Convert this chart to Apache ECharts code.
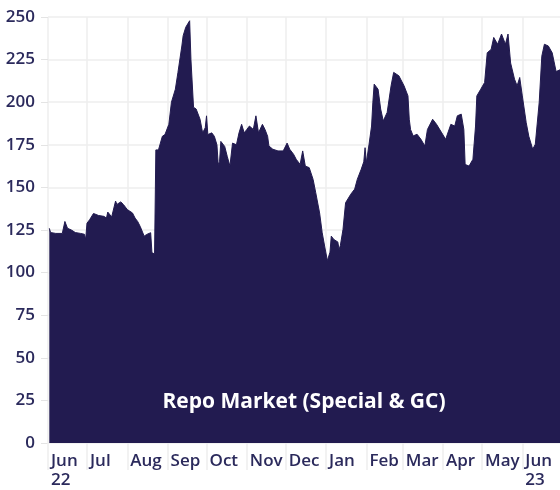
<!DOCTYPE html>
<html>
<head>
<meta charset="utf-8">
<script src="https://cdn.jsdelivr.net/npm/echarts@6/dist/echarts.min.js"></script>
<style>html,body{margin:0;padding:0;background:#fff}#c{width:560px;height:490px}</style>
</head>
<body>
<div id="c"></div>
<script>
var dates = [
'2022-06-02','2022-06-03','2022-06-07','2022-06-12','2022-06-13','2022-06-14','2022-06-16','2022-06-19','2022-06-22','2022-06-26','2022-06-29','2022-06-30',
'2022-07-01','2022-07-03','2022-07-06','2022-07-10','2022-07-14','2022-07-16','2022-07-17','2022-07-20','2022-07-21','2022-07-23','2022-07-24','2022-07-27','2022-07-29',
'2022-08-01','2022-08-03','2022-08-05','2022-08-07','2022-08-09','2022-08-11','2022-08-14','2022-08-16','2022-08-19','2022-08-20','2022-08-21','2022-08-22','2022-08-23','2022-08-25','2022-08-28','2022-08-30',
'2022-09-02','2022-09-04','2022-09-07','2022-09-09','2022-09-12','2022-09-13','2022-09-15','2022-09-18','2022-09-19','2022-09-21','2022-09-23','2022-09-26','2022-09-28','2022-09-30',
'2022-10-01','2022-10-02','2022-10-05','2022-10-07','2022-10-09','2022-10-10','2022-10-11','2022-10-12','2022-10-15','2022-10-17','2022-10-19','2022-10-21','2022-10-24','2022-10-26','2022-10-28','2022-10-29','2022-10-30',
'2022-11-01','2022-11-03','2022-11-06','2022-11-08','2022-11-10','2022-11-13','2022-11-15','2022-11-17','2022-11-18','2022-11-21','2022-11-25','2022-11-29',
'2022-12-02','2022-12-04','2022-12-07','2022-12-09','2022-12-12','2022-12-14','2022-12-16','2022-12-19','2022-12-22','2022-12-24','2022-12-27','2022-12-29','2022-12-31',
'2023-01-02','2023-01-04','2023-01-05','2023-01-07','2023-01-10','2023-01-11','2023-01-12','2023-01-14','2023-01-16','2023-01-20','2023-01-23','2023-01-25','2023-01-28','2023-01-30','2023-01-31',
'2023-02-01','2023-02-03','2023-02-05','2023-02-06','2023-02-07','2023-02-08','2023-02-10','2023-02-12','2023-02-14','2023-02-17','2023-02-20','2023-02-22','2023-02-26',
'2023-03-02','2023-03-05','2023-03-06','2023-03-07','2023-03-09','2023-03-12','2023-03-15','2023-03-18','2023-03-20','2023-03-24','2023-03-27','2023-03-31',
'2023-04-03','2023-04-07','2023-04-10','2023-04-12','2023-04-15','2023-04-17','2023-04-18','2023-04-21','2023-04-24','2023-04-26','2023-04-27','2023-04-30',
'2023-05-03','2023-05-05','2023-05-08','2023-05-10','2023-05-13','2023-05-16','2023-05-19','2023-05-21','2023-05-23','2023-05-26','2023-05-28','2023-05-30',
'2023-06-01','2023-06-04','2023-06-06','2023-06-09','2023-06-11','2023-06-14','2023-06-16','2023-06-18','2023-06-21','2023-06-24','2023-06-27','2023-06-30'
];
var values = [
126,123.5,123,123,124,130,126,125,123.5,123,122.5,119.5,
129,131,134.7,133.5,133,132,135.5,132.7,133,142,140,141.5,140,
137,136,135,132,130,127,121.4,122.4,123.4,111.6,110.5,111,172,172,180,181,
187,200,207.6,217.5,233,239,244,247.8,225,197,196,190,182,185,
192,181,182,180,175,163.5,165,177,174,168,162.5,176,175,182,187,187,182,
184,186,184,192,182,187,184,180,174.3,172.4,171.4,171.4,
176,172.4,169.4,166.5,163.5,171.4,162.5,161.6,154.7,147,135,123.4,115,
107,112,121.4,119.4,118,113.5,116,125.3,141,146,149,154.7,160.6,165,173.3,
164.5,175,186,200,210.6,211.6,207.6,196,189,194,209.6,217.5,215.5,
209.6,203.7,190,184,180.2,181.2,178.2,174.3,184,190,187,182,
178.2,187,186,192,193,184,163.5,162.5,166.5,186,203.7,207.6,
211.6,229,231,238,234,240,234,240,223,213.5,209.6,214.5,
203.7,188,180,172.4,175.3,200,227,234,233,229,218,219
];
var monthStarts = ['2022-06-01','2022-07-01','2022-08-01','2022-09-01','2022-10-01','2022-11-01','2022-12-01','2023-01-01','2023-02-01','2023-03-01','2023-04-01','2023-05-01','2023-06-01'];
var monthLabels = ['Jun\n22','Jul','Aug','Sep','Oct','Nov','Dec','Jan','Feb','Mar','Apr','May','Jun\n23'];
var yTicks = [0,25,50,75,100,125,150,175,200,225,250];
var seriesName = 'Repo Market (Special & GC)';

function ts(s){ var p = s.split('-'); return Date.UTC(+p[0], +p[1]-1, +p[2]); }
var tickVals = monthStarts.map(ts);
var data = dates.map(function(d,i){ return [ts(d), values[i]]; });
var navy = '#221b50';
var txt = '#2b2a5c';
var grid = '#eeeeee';

var chart = echarts.init(document.getElementById('c'), null, {renderer:'canvas'});
chart.setOption({
  animation:false,
  backgroundColor:'#ffffff',
  grid:{left:48, right:0, top:17, bottom:47, containLabel:false},
  xAxis:{
    type:'value',
    min: ts('2022-06-01'),
    max: ts('2023-06-30'),
    axisLine:{show:false},
    axisTick:{show:true, customValues: tickVals, length:27, lineStyle:{color:grid, width:1.5}},
    splitLine:{show:true, lineStyle:{color:grid, width:1.5}},
    axisLabel:{
      customValues: tickVals,
      showMinLabel:true, showMaxLabel:true,
      align:'left', padding:[0,0,0,3], margin:9,
      fontFamily:'Open Sans', fontSize:17, fontWeight:600, lineHeight:19, color:txt,
      formatter:function(v){ var i = tickVals.indexOf(v); return i>=0 ? monthLabels[i] : ''; }
    }
  },
  yAxis:{
    type:'value', min:0, max:250, interval:25,
    axisLine:{show:false},
    axisTick:{show:true, length:7, lineStyle:{color:'#e4e4e4'}},
    splitLine:{show:true, lineStyle:{color:grid, width:1.5}},
    axisLabel:{margin:13, fontFamily:'Open Sans', fontSize:17, fontWeight:600, color:txt,
      formatter:function(v){ return yTicks.indexOf(v)>=0 ? String(v) : ''; }}
  },
  series:[{
    type:'line', name:seriesName, data:data, showSymbol:false, symbol:'none',
    lineStyle:{color:navy, width:1}, areaStyle:{color:navy, opacity:1}, z:3
  }],
  graphic:[{
    type:'text', x:304, y:402, z:10,
    style:{text:seriesName, fill:'#ffffff', font:'bold 21px "Open Sans"', align:'center', verticalAlign:'middle'}
  }]
});
</script>
</body>
</html>
